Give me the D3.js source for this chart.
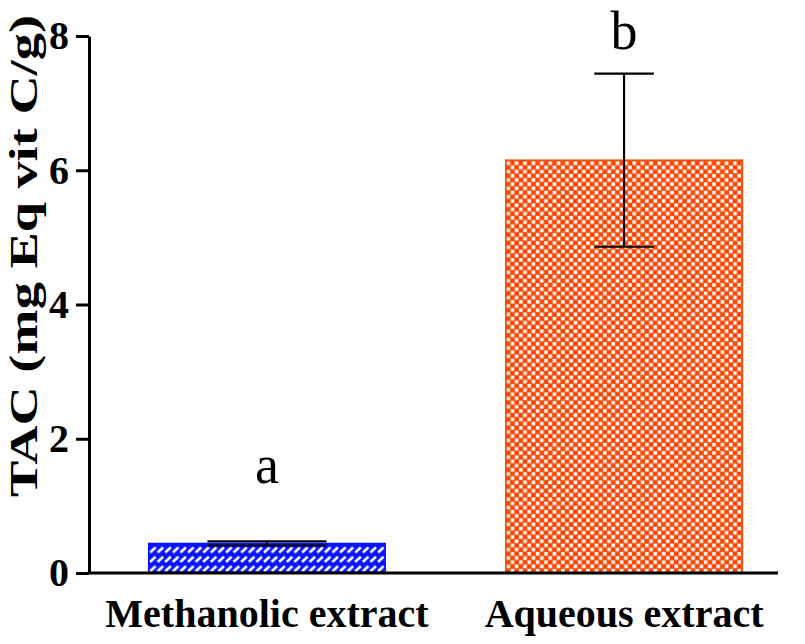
<!DOCTYPE html>
<html>
<head>
<meta charset="utf-8">
<script src="https://cdn.jsdelivr.net/npm/d3@7/dist/d3.min.js"></script>
<style>
  html, body { margin: 0; padding: 0; background: #fff; }
  svg { display: block; }
  text { font-family: "Liberation Serif", "Times New Roman", serif; }
</style>
</head>
<body>
<svg id="chart" width="805" height="644"></svg>
<script>
// ---- data ----
const categories = ["Methanolic extract", "Aqueous extract"];
const means = [0.44, 6.15];
const errors = [0.03, 1.29];
const letters = ["a", "b"];
const letterLevels = [1.34, 7.81];   // value-axis height of letter baselines
const yTicks = [0, 2, 4, 6, 8];
const yTitle = "TAC (mg Eq vit C/g)";

// ---- layout ----
const svg = d3.select("#chart");
const axisX0 = 89, axisX1 = 778;
const y = d3.scaleLinear().domain([0, 8]).range([573, 36]);
const x = d3.scaleBand().domain(categories).range([89, 802]).paddingInner(1/3).paddingOuter(0.165);
const FONT = "'Liberation Serif', 'Times New Roman', serif";

const defs = svg.append("defs");
// orange checkerboard
const pOr = defs.append("pattern").attr("id", "checker").attr("patternUnits", "userSpaceOnUse")
  .attr("width", 8.4).attr("height", 8.4).attr("x", 506).attr("y", 161);
pOr.append("rect").attr("width", 8.4).attr("height", 8.4).attr("fill", "#FF4500");
pOr.append("rect").attr("x", 0.4).attr("y", 0.4).attr("width", 3.6).attr("height", 3.6).attr("fill", "#fff");
pOr.append("rect").attr("x", 4.6).attr("y", 4.6).attr("width", 3.6).attr("height", 3.6).attr("fill", "#fff");
// blue diagonal brick
const pBl = defs.append("pattern").attr("id", "brick").attr("patternUnits", "userSpaceOnUse")
  .attr("width", 7.6).attr("height", 9.4).attr("x", 149).attr("y", 545);
pBl.append("rect").attr("width", 7.6).attr("height", 9.4).attr("fill", "#0A14FF");
pBl.append("line").attr("x1", 1).attr("y1", 7.6).attr("x2", 6.6).attr("y2", 2.4)
  .attr("stroke", "#fff").attr("stroke-width", 2.6);

const fills = ["url(#brick)", "url(#checker)"];
const strokes = ["#0A14FF", "#FF4500"];
const capFrac = [0.5, 0.25];

// bars
svg.selectAll("rect.bar").data(categories).enter().append("rect")
  .attr("class", "bar")
  .attr("x", d => x(d) + 0.75)
  .attr("y", (d, i) => y(means[i]))
  .attr("width", x.bandwidth() - 1.5)
  .attr("height", (d, i) => y(0) - y(means[i]))
  .attr("fill", (d, i) => fills[i])
  .attr("stroke", (d, i) => strokes[i])
  .attr("stroke-width", 1.5);

// error bars
const eg = svg.append("g").attr("stroke", "#000").attr("stroke-width", 2.2);
categories.forEach((c, i) => {
  const cx = x(c) + x.bandwidth() / 2;
  const hw = x.bandwidth() * capFrac[i] / 2;
  const top = y(means[i] + errors[i]), bot = y(means[i] - errors[i]);
  eg.append("line").attr("x1", cx).attr("x2", cx).attr("y1", top).attr("y2", bot);
  eg.append("line").attr("x1", cx - hw).attr("x2", cx + hw).attr("y1", top).attr("y2", top);
  eg.append("line").attr("x1", cx - hw).attr("x2", cx + hw).attr("y1", bot).attr("y2", bot);
});

// y axis
const yAxis = svg.append("g").attr("transform", `translate(${axisX0},0)`)
  .call(d3.axisLeft(y).tickValues(yTicks).tickFormat(d3.format("d")).tickSize(13).tickSizeOuter(0).tickPadding(7));
yAxis.select(".domain").attr("stroke", "#000").attr("stroke-width", 3);
yAxis.selectAll(".tick line").attr("stroke", "#000").attr("stroke-width", 3);
yAxis.selectAll(".tick text").attr("font-size", 40).attr("font-weight", "bold")
  .attr("font-family", FONT).attr("fill", "#000");

// x axis
svg.append("line").attr("x1", axisX0 - 1.5).attr("x2", axisX1).attr("y1", y(0)).attr("y2", y(0))
  .attr("stroke", "#000").attr("stroke-width", 3);
const xAxis = svg.append("g").attr("transform", `translate(0,${y(0)})`)
  .call(d3.axisBottom(x).tickSize(0).tickPadding(26));
xAxis.select(".domain").remove();
xAxis.selectAll(".tick text").attr("font-size", 40).attr("font-weight", "bold")
  .attr("font-family", FONT).attr("fill", "#000");

// y title
svg.append("text").attr("transform", `translate(37,256) rotate(-90)`)
  .attr("text-anchor", "middle").attr("font-size", 41).attr("font-weight", "bold")
  .attr("textLength", 482).attr("lengthAdjust", "spacingAndGlyphs").text(yTitle);

// significance letters
svg.selectAll("text.letter").data(letters).enter().append("text")
  .attr("class", "letter")
  .attr("x", (d, i) => x(categories[i]) + x.bandwidth() / 2)
  .attr("y", (d, i) => y(letterLevels[i]))
  .attr("text-anchor", "middle").attr("font-size", 54).text(d => d);
</script>
</body>
</html>
